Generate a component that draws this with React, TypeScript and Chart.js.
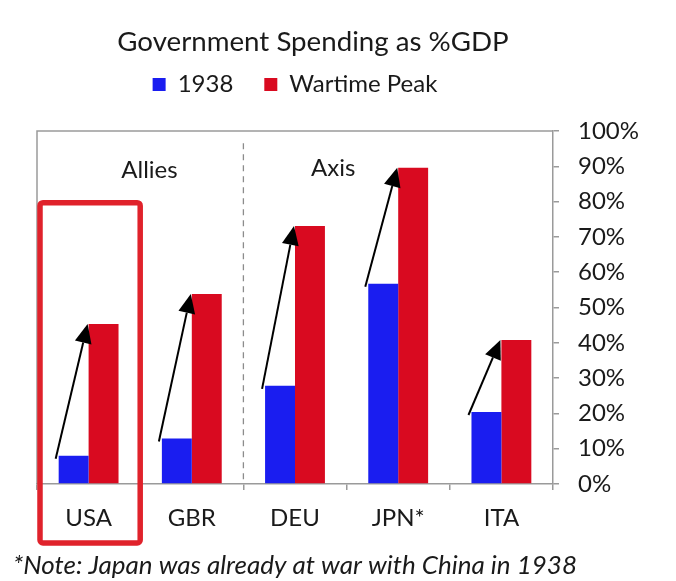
import React, { useEffect, useRef } from 'react';
import { Chart, registerables } from 'chart.js';

Chart.register(...registerables);

// ---- data ----
const categories = ['USA', 'GBR', 'DEU', 'JPN*', 'ITA'];
const seriesNames = ['1938', 'Wartime Peak'];
const spending1938 = [8.0, 12.9, 27.8, 56.7, 20.4];
const wartimePeak = [45.3, 53.8, 73.1, 89.6, 40.8];
const titleText = 'Government Spending as %GDP';
const groupLabels = ['Allies', 'Axis'];
const noteText = '*Note: Japan was already at war with China in 1938';

// ---- style ----
const FONT = 'Lato, "Open Sans", "DejaVu Sans", sans-serif';
const BLUE = '#1a1df0';
const RED = '#d90a20';
const BOX_RED = '#e0222b';
const AXIS = '#9a9a9a';
const TEXT = '#1a1a1a';

const annotations = {
  id: 'annotations',
  beforeDatasetsDraw(chart: any) {
    const { ctx, chartArea, scales } = chart;
    const x = scales.x;
    const y = scales.y;
    ctx.save();
    // frame (left + top)
    ctx.strokeStyle = AXIS;
    ctx.lineWidth = 1.5;
    ctx.beginPath();
    ctx.moveTo(chartArea.left, chartArea.bottom);
    ctx.lineTo(chartArea.left, chartArea.top);
    ctx.lineTo(chartArea.right, chartArea.top);
    ctx.stroke();
    // dashed divider between Allies and Axis
    const divX = x.getPixelForValue(1.5);
    ctx.setLineDash([6, 5]);
    ctx.strokeStyle = '#8c8c8c';
    ctx.lineWidth = 1.3;
    ctx.beginPath();
    ctx.moveTo(divX, y.getPixelForValue(96.5));
    ctx.lineTo(divX, chartArea.bottom);
    ctx.stroke();
    ctx.restore();
  },
  afterDraw(chart: any) {
    const { ctx, chartArea, scales } = chart;
    const x = scales.x;
    const y = scales.y;
    const m0 = chart.getDatasetMeta(0).data;
    const m1 = chart.getDatasetMeta(1).data;
    ctx.save();
    // title
    ctx.fillStyle = TEXT;
    ctx.font = `27.7px ${FONT}`;
    ctx.textAlign = 'center';
    ctx.textBaseline = 'middle';
    ctx.fillText(titleText, (chartArea.left + chartArea.right) / 2 + 18, 42);
    // arrows
    ctx.strokeStyle = '#000';
    ctx.fillStyle = '#000';
    ctx.lineWidth = 2;
    for (let i = 0; i < m0.length; i++) {
      const b = m0[i];
      const r = m1[i];
      const sx = b.x - b.width / 2 - 3;
      const sy = b.y + 3;
      const ex = r.x - r.width / 2 - 1;
      const ey = r.y;
      const ang = Math.atan2(ey - sy, ex - sx);
      const hl = 19;
      const hw = 8.5;
      const bx = ex - hl * Math.cos(ang);
      const by = ey - hl * Math.sin(ang);
      ctx.beginPath();
      ctx.moveTo(sx, sy);
      ctx.lineTo(bx, by);
      ctx.stroke();
      ctx.beginPath();
      ctx.moveTo(ex, ey);
      ctx.lineTo(bx + hw * Math.sin(ang), by - hw * Math.cos(ang));
      ctx.lineTo(bx - hw * Math.sin(ang), by + hw * Math.cos(ang));
      ctx.closePath();
      ctx.fill();
    }
    // group labels
    ctx.fillStyle = TEXT;
    ctx.font = `24px ${FONT}`;
    ctx.textAlign = 'center';
    ctx.textBaseline = 'middle';
    ctx.fillText(groupLabels[0], x.getPixelForValue(0.59), y.getPixelForValue(89));
    ctx.fillText(groupLabels[1], x.getPixelForValue(2.37), y.getPixelForValue(89.5));
    // highlight box around USA
    const step = x.getPixelForValue(1) - x.getPixelForValue(0);
    const c0 = x.getPixelForValue(0);
    const left = c0 - step / 2 + 3;
    const right = c0 + step / 2;
    const top = y.getPixelForValue(79.7);
    const bottom = chartArea.bottom + 59;
    ctx.strokeStyle = BOX_RED;
    ctx.lineWidth = 5.5;
    ctx.beginPath();
    if ((ctx as any).roundRect) {
      (ctx as any).roundRect(left, top, right - left, bottom - top, 3);
    } else {
      ctx.rect(left, top, right - left, bottom - top);
    }
    ctx.stroke();
    // note
    ctx.fillStyle = TEXT;
    ctx.font = `italic 26px ${FONT}`;
    ctx.textAlign = 'left';
    ctx.textBaseline = 'middle';
    ctx.fillText(noteText, 13, chartArea.bottom + 82);
    ctx.restore();
  },
};

export default function App() {
  const ref = useRef<HTMLCanvasElement>(null);
  useEffect(() => {
    document.body.style.margin = '0';
    document.body.style.overflow = 'hidden';
    const canvas = ref.current;
    if (!canvas) return;
    const chart = new Chart(canvas, {
      type: 'bar',
      data: {
        labels: categories,
        datasets: [
          {
            label: seriesNames[0],
            data: spending1938,
            backgroundColor: BLUE,
            borderWidth: 0,
            categoryPercentage: 0.58,
            barPercentage: 1,
          },
          {
            label: seriesNames[1],
            data: wartimePeak,
            backgroundColor: RED,
            borderWidth: 0,
            categoryPercentage: 0.58,
            barPercentage: 1,
          },
        ],
      },
      options: {
        responsive: false,
        animation: false,
        devicePixelRatio: 1,
        layout: { padding: { left: 37, right: 0, top: 41.5, bottom: 0 } },
        plugins: {
          title: { display: false },
          legend: {
            display: true,
            position: 'top',
            fullSize: false,
            weight: 1500,
            labels: {
              boxWidth: 13,
              boxHeight: 13,
              padding: 31,
              color: TEXT,
              font: { family: FONT, size: 24 },
            },
          },
          subtitle: {
            display: true,
            text: ' ',
            position: 'top',
            weight: 1000,
            font: { size: 10 },
            padding: { top: 6, bottom: 6.5 },
          },
          tooltip: { enabled: false },
        },
        scales: {
          x: {
            grid: {
              display: true,
              drawOnChartArea: false,
              drawTicks: true,
              tickLength: 6,
              color: AXIS,
              lineWidth: 1.5,
              offset: true,
            },
            border: { display: true, color: AXIS, width: 1.5 },
            ticks: {
              color: TEXT,
              font: { family: FONT, size: 24 },
              padding: 14,
              maxRotation: 0,
              autoSkip: false,
            },
            afterFit: (s: any) => {
              s.height = 97;
            },
          },
          y: {
            position: 'right',
            min: 0,
            max: 100,
            grid: {
              display: true,
              drawOnChartArea: false,
              drawTicks: true,
              tickLength: 6,
              color: AXIS,
              lineWidth: 1.5,
            },
            border: { display: true, color: AXIS, width: 1.5 },
            ticks: {
              stepSize: 10,
              color: TEXT,
              font: { family: FONT, size: 24 },
              padding: 19,
              callback: (v: any) => `${v}%`,
            },
            afterFit: (s: any) => {
              s.width = 123;
            },
          },
        },
      },
      plugins: [annotations],
    } as any);
    return () => chart.destroy();
  }, []);
  return <canvas ref={ref} width={676} height={581} style={{ display: 'block' }} />;
}
